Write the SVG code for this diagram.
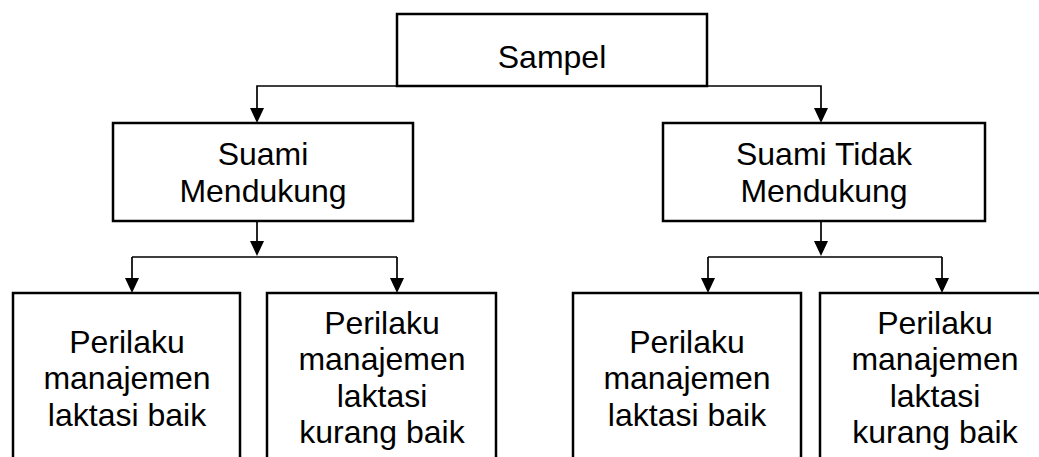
<svg xmlns="http://www.w3.org/2000/svg" width="1039" height="457" viewBox="0 0 1039 457">
<style>
.box{fill:#fff;stroke:#000;stroke-width:2.5}
.t{font-family:"Liberation Sans",Arial,sans-serif;font-size:32px;fill:#000;text-anchor:middle}
.c{fill:none;stroke:#000;stroke-width:1.7}
.ah{fill:#000}
</style>
<rect width="1039" height="457" fill="#fff"/>
<g id="connectors">
<path class="c" d="M397,86 H257 V110 M707,86 H821 V110"/>
<polygon class="ah" points="250,108 264,108 257,123"/>
<polygon class="ah" points="814,108 828,108 821,123"/>
<path class="c" d="M257,221 V243 M132,257 H397 M132,257 V280 M397,257 V280"/>
<polygon class="ah" points="250,241 264,241 257,256"/>
<polygon class="ah" points="125,278 139,278 132,293"/>
<polygon class="ah" points="390,278 404,278 397,293"/>
<path class="c" d="M821,221 V243 M708,257 H942 M708,257 V280 M942,257 V280"/>
<polygon class="ah" points="814,241 828,241 821,256"/>
<polygon class="ah" points="701,278 715,278 708,293"/>
<polygon class="ah" points="935,278 949,278 942,293"/>
</g>
<g id="sampel">
<rect class="box" x="397" y="14" width="310" height="72"/>
<text class="t" x="552" y="68">Sampel</text>
</g>
<g id="suami-mendukung">
<rect class="box" x="113" y="123" width="300" height="98"/>
<text class="t" x="263" y="165">Suami</text>
<text class="t" x="263" y="201.5">Mendukung</text>
</g>
<g id="suami-tidak-mendukung">
<rect class="box" x="663" y="123" width="322" height="98"/>
<text class="t" x="824" y="165">Suami Tidak</text>
<text class="t" x="824" y="201.5">Mendukung</text>
</g>
<g id="sm-baik">
<rect class="box" x="13" y="293" width="227" height="180"/>
<text class="t" x="127" y="352.5">Perilaku</text>
<text class="t" x="127" y="389">manajemen</text>
<text class="t" x="127" y="425.5">laktasi baik</text>
</g>
<g id="sm-kurang">
<rect class="box" x="267" y="293" width="229" height="180"/>
<text class="t" x="382" y="333.5">Perilaku</text>
<text class="t" x="382" y="370">manajemen</text>
<text class="t" x="382" y="406.5">laktasi</text>
<text class="t" x="382" y="443">kurang baik</text>
</g>
<g id="stm-baik">
<rect class="box" x="573" y="293" width="228" height="180"/>
<text class="t" x="687" y="352.5">Perilaku</text>
<text class="t" x="687" y="389">manajemen</text>
<text class="t" x="687" y="425.5">laktasi baik</text>
</g>
<g id="stm-kurang">
<rect class="box" x="820" y="293" width="230" height="180"/>
<text class="t" x="935" y="333.5">Perilaku</text>
<text class="t" x="935" y="370">manajemen</text>
<text class="t" x="935" y="406.5">laktasi</text>
<text class="t" x="935" y="443">kurang baik</text>
</g>
</svg>
